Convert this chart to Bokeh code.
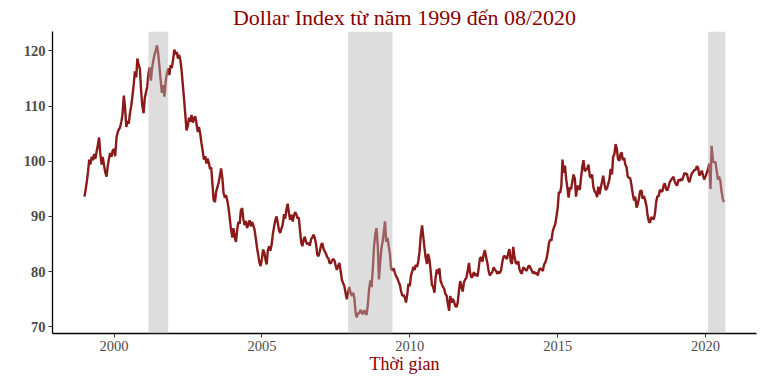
import pandas as pd
from bokeh.plotting import figure
from bokeh.models import Range1d, FixedTicker, BoxAnnotation
from bokeh.embed import file_html
from bokeh.resources import INLINE

# Dollar Index, semi-monthly readings (1st and 15th of each month), Jan 1999 - Aug 2020
y1999 = [93.6, 94.8, 96.5, 98.2, 100.3, 99.4, 100.8, 100.2, 101.3, 100.4, 101.8, 102.9,
         104.3, 101.5, 99.4, 100.8, 99.2, 98.0, 97.2, 99.0, 100.6, 101.5, 100.8, 101.9]
y2000 = [102.2, 100.9, 104.3, 105.2, 105.8, 106.1, 107.2, 108.5, 111.9, 110.0, 106.2, 107.3,
         106.8, 108.6, 110.1, 111.8, 114.0, 116.3, 115.2, 118.6, 117.4, 116.8, 112.6, 110.1]
y2001 = [108.7, 111.4, 112.6, 113.5, 115.8, 117.0, 114.6, 116.8, 118.2, 119.3, 120.1, 121.0,
         119.4, 117.2, 114.5, 112.4, 113.8, 111.7, 114.6, 115.9, 116.8, 115.6, 117.4, 116.9]
y2002 = [118.5, 120.2, 119.4, 119.8, 118.6, 119.3, 118.2, 116.4, 113.7, 111.3, 108.2, 105.6,
         106.4, 107.9, 107.2, 108.4, 107.0, 107.8, 108.1, 106.9, 105.3, 106.2, 105.0, 103.4]
y2003 = [101.8, 100.3, 100.9, 99.6, 100.5, 99.8, 98.6, 98.9, 95.8, 93.0, 92.6, 94.5,
         95.3, 96.1, 97.4, 98.7, 96.8, 94.2, 93.4, 93.9, 92.8, 91.6, 89.6, 87.7]
y2004 = [86.2, 87.9, 86.1, 85.4, 87.6, 89.0, 88.7, 91.1, 91.5, 89.6, 88.4, 89.2,
         87.9, 88.6, 89.3, 88.2, 89.0, 88.4, 87.6, 86.2, 84.3, 83.1, 81.6, 81.0]
y2005 = [82.3, 84.0, 83.4, 82.1, 81.3, 83.9, 84.6, 83.8, 84.9, 86.7, 88.2, 89.3,
         90.0, 88.9, 87.4, 87.0, 87.9, 88.6, 90.4, 89.6, 91.4, 92.3, 90.6, 89.4]
y2006 = [90.3, 89.1, 90.2, 90.8, 90.4, 89.7, 89.8, 87.6, 85.3, 84.6, 85.9, 86.3,
         85.3, 85.0, 85.2, 84.7, 85.9, 86.2, 86.7, 86.1, 84.9, 83.1, 82.8, 83.6]
y2007 = [84.8, 85.2, 84.1, 83.7, 83.3, 82.7, 82.4, 81.6, 81.5, 82.0, 82.3, 82.0,
         81.0, 80.3, 81.1, 81.6, 80.0, 78.5, 77.9, 77.4, 76.0, 75.0, 76.3, 77.2]
y2008 = [76.1, 75.6, 76.2, 75.3, 72.8, 71.7, 72.5, 72.4, 73.1, 72.6, 72.3, 73.0,
         72.5, 72.2, 74.1, 76.8, 78.4, 77.2, 80.6, 84.5, 86.9, 87.9, 84.6, 78.6]
y2009 = [81.8, 84.2, 85.6, 87.3, 89.1, 85.4, 86.1, 84.7, 83.2, 80.5, 80.2, 80.6,
         79.8, 79.2, 78.8, 78.2, 77.6, 76.5, 75.6, 75.8, 75.3, 74.4, 75.9, 77.8]
y2010 = [77.4, 79.3, 80.1, 80.9, 80.3, 81.2, 80.9, 81.8, 83.6, 86.4, 88.4, 86.5,
         84.3, 82.6, 81.4, 83.2, 82.1, 80.2, 77.6, 77.3, 76.2, 78.9, 80.4, 79.6]
y2011 = [80.6, 78.4, 77.7, 77.2, 76.9, 76.0, 75.6, 74.2, 72.9, 75.6, 74.4, 75.1,
         74.6, 73.8, 73.6, 74.4, 76.8, 78.3, 77.2, 76.4, 78.1, 78.6, 78.9, 80.1]
y2012 = [81.6, 79.8, 78.9, 79.2, 79.9, 79.3, 79.6, 79.1, 80.8, 82.4, 82.6, 81.8,
         83.2, 83.9, 82.5, 81.6, 80.0, 79.3, 79.7, 79.9, 80.8, 80.4, 80.1, 79.6]
y2013 = [80.0, 79.7, 80.3, 81.6, 82.6, 82.9, 82.5, 82.3, 83.4, 84.1, 81.8, 81.4,
         84.5, 82.9, 81.6, 81.4, 81.9, 80.5, 79.9, 79.6, 80.8, 80.6, 80.3, 80.2]
y2014 = [80.9, 81.1, 80.6, 80.2, 79.7, 80.0, 79.6, 79.8, 79.3, 80.3, 80.6, 80.4,
         80.1, 81.2, 81.7, 82.3, 83.6, 85.2, 85.8, 85.6, 87.3, 88.0, 88.6, 89.8]
y2015 = [91.6, 94.4, 94.3, 95.6, 100.3, 97.9, 99.2, 96.8, 95.1, 93.4, 95.3, 94.9,
         96.4, 97.6, 96.8, 93.6, 95.6, 95.2, 94.8, 97.0, 99.0, 100.2, 98.2, 98.4]
y2016 = [98.7, 99.4, 97.3, 97.0, 97.6, 95.4, 94.5, 94.3, 93.5, 95.4, 94.0, 95.2,
         96.3, 97.4, 95.8, 94.8, 95.1, 95.9, 96.8, 98.6, 97.6, 100.8, 101.3, 103.1]
y2017 = [102.2, 100.4, 100.1, 101.3, 101.6, 100.2, 100.6, 99.4, 98.9, 97.2, 97.0, 96.9,
         95.6, 94.2, 92.9, 93.6, 91.6, 92.2, 93.3, 94.6, 94.7, 93.2, 93.7, 93.0]
y2018 = [91.9, 90.2, 89.0, 88.9, 89.9, 89.6, 89.5, 90.4, 92.6, 93.6, 93.7, 94.8,
         94.6, 94.5, 95.6, 96.0, 94.9, 94.7, 95.4, 96.2, 96.6, 96.9, 97.2, 96.4]
y2019 = [95.8, 95.6, 96.7, 96.4, 96.8, 96.5, 97.2, 97.9, 97.6, 97.8, 96.6, 96.2,
         97.1, 97.8, 98.1, 98.4, 98.5, 99.1, 98.8, 97.4, 97.8, 98.3, 97.4, 96.7]
y2020 = [97.3, 97.9, 98.6, 99.6, 95.0, 102.8, 100.0, 99.8, 99.9, 98.4, 96.7, 97.2,
         96.4, 94.6, 93.1, 92.6]

# Recession periods (shaded)
rec_start = ["2001-03-01", "2007-12-01", "2020-02-01"]
rec_end = ["2001-11-01", "2009-06-01", "2020-08-31"]

x_ticks = [2000, 2005, 2010, 2015, 2020]
y_ticks = [70, 80, 90, 100, 110, 120]

title_text = "Dollar Index từ năm 1999 đến 08/2020"
x_label = "Thời gian"

values = (y1999 + y2000 + y2001 + y2002 + y2003 + y2004 + y2005 + y2006 + y2007 + y2008 +
          y2009 + y2010 + y2011 + y2012 + y2013 + y2014 + y2015 + y2016 + y2017 + y2018 +
          y2019 + y2020)
dates = pd.date_range("1999-01-01", periods=len(values), freq="SMS")


def dec_year(ts):
    ts = pd.Timestamp(ts)
    return ts.year + (ts.dayofyear - 1) / 365.25


xs = [dec_year(d) for d in dates]

SERIF = "Liberation Serif"
RED = "#8B0000"

p = figure(width=758, height=376, output_backend="svg", toolbar_location=None,
           x_range=Range1d(1997.92, 2021.72), y_range=Range1d(68.8, 123.5),
           min_border_left=52, min_border_right=2, min_border_top=31, min_border_bottom=43)
p.outline_line_color = None
p.xgrid.visible = False
p.ygrid.visible = False
p.background_fill_color = "white"
p.border_fill_color = "white"

p.title.text = title_text
p.title.align = "center"
p.title.vertical_align = "top"
p.title.text_font = SERIF
p.title.text_font_size = "22px"
p.title.text_font_style = "normal"
p.title.text_color = RED
p.title.standoff = 0

p.line(xs, values, line_color="#8B1A1A", line_width=2.4)

for s, e in zip(rec_start, rec_end):
    p.add_layout(BoxAnnotation(left=dec_year(s), right=dec_year(e), fill_color="#B4B4B4",
                               fill_alpha=0.45, line_color=None))

p.xaxis.ticker = FixedTicker(ticks=x_ticks)
p.yaxis.ticker = FixedTicker(ticks=y_ticks)
for ax in (p.xaxis[0], p.yaxis[0]):
    ax.axis_line_color = "black"
    ax.axis_line_width = 1.3
    ax.major_tick_line_color = "#333333"
    ax.major_tick_out = 4
    ax.major_tick_in = 0
    ax.minor_tick_line_color = None
    ax.major_label_text_font = SERIF
    ax.major_label_text_font_size = "14.5px"
    ax.major_label_text_color = "#4D4D4D"
    ax.major_label_standoff = 3

p.yaxis.major_label_text_font_style = "bold"
p.xaxis.axis_label = x_label
p.xaxis.axis_label_text_font = SERIF
p.xaxis.axis_label_text_font_size = "18px"
p.xaxis.axis_label_text_font_style = "normal"
p.xaxis.axis_label_text_color = RED
p.xaxis.axis_label_standoff = 0

open("out.html", "w").write(file_html(p, INLINE))
